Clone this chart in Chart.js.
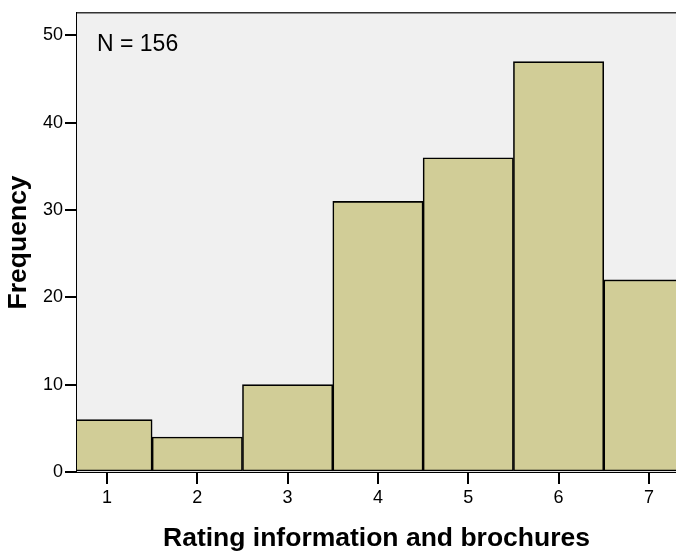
<!DOCTYPE html>
<html>
<head>
<meta charset="utf-8">
<script src="https://cdn.jsdelivr.net/npm/chart.js@4.4.1/dist/chart.umd.min.js"></script>
<style>
  html, body { margin: 0; padding: 0; background: #fff; overflow: hidden; }
  canvas { display: block; }
</style>
</head>
<body>
<canvas id="hist" width="676" height="555"></canvas>
<script>
// histogram data
const ratings = [1, 2, 3, 4, 5, 6, 7];
const frequency = [6, 4, 10, 31, 36, 47, 22];
const yTicks = [0, 10, 20, 30, 40, 50];
const nLabel = 'N = 156';

const FONT = '"Liberation Sans", Arial, sans-serif';

// grey plot background, top frame line, N label
const plotDecor = {
  id: 'plotDecor',
  beforeDatasetsDraw(chart) {
    const { ctx, chartArea: a } = chart;
    ctx.save();
    ctx.fillStyle = '#f0f0f0';
    ctx.fillRect(a.left, a.top, a.right - a.left, a.bottom - a.top);
    ctx.restore();
  },
  afterDraw(chart) {
    const { ctx, chartArea: a } = chart;
    ctx.save();
    ctx.strokeStyle = '#333';
    ctx.lineWidth = 1.5;
    ctx.beginPath();
    ctx.moveTo(a.left, a.top);
    ctx.lineTo(a.right, a.top);
    ctx.stroke();
    ctx.fillStyle = '#000';
    ctx.font = '23px ' + FONT;
    ctx.textBaseline = 'alphabetic';
    ctx.fillText(nLabel, 97, 51);
    ctx.restore();
  }
};

new Chart(document.getElementById('hist').getContext('2d'), {
  type: 'bar',
  data: {
    datasets: [{
      data: ratings.map((r, i) => ({ x: r, y: frequency[i] })),
      backgroundColor: '#d1cd97',
      borderColor: '#000',
      borderWidth: 1.6,
      borderSkipped: false,
      barPercentage: 1,
      categoryPercentage: 1,
      clip: 0
    }]
  },
  options: {
    responsive: false,
    animation: false,
    layout: { padding: { top: 10, left: 0, right: 0, bottom: 0 } },
    plugins: { legend: { display: false }, tooltip: { enabled: false } },
    scales: {
      x: {
        type: 'linear',
        min: 0.668,
        max: 7.3,
        offset: false,
        afterFit: s => { s.height = 83; },
        afterBuildTicks: s => { s.ticks = ratings.map(v => ({ value: v })); },
        grid: { offset: false, drawOnChartArea: false, drawTicks: true, tickLength: 12, color: '#000', lineWidth: 2 },
        border: { color: '#000', width: 2 },
        ticks: { color: '#000', font: { family: FONT, size: 18 }, padding: 3, maxRotation: 0 },
        title: {
          display: true,
          text: 'Rating information and brochures',
          color: '#000',
          font: { family: FONT, size: 26.5, weight: 'bold' },
          padding: { top: 0, bottom: 0 }
        }
      },
      y: {
        min: 0,
        max: 52.6,
        afterFit: s => { s.width = 77; },
        afterBuildTicks: s => { s.ticks = yTicks.map(v => ({ value: v })); },
        grid: { drawOnChartArea: false, drawTicks: true, tickLength: 12, color: '#000', lineWidth: 2 },
        border: { color: '#000', width: 2 },
        ticks: { color: '#000', font: { family: FONT, size: 18 }, padding: 2 },
        title: {
          display: true,
          text: 'Frequency',
          color: '#000',
          font: { family: FONT, size: 26.5, weight: 'bold' },
          padding: { top: 3, bottom: 0 }
        }
      }
    }
  },
  plugins: [plotDecor]
});
</script>
</body>
</html>
